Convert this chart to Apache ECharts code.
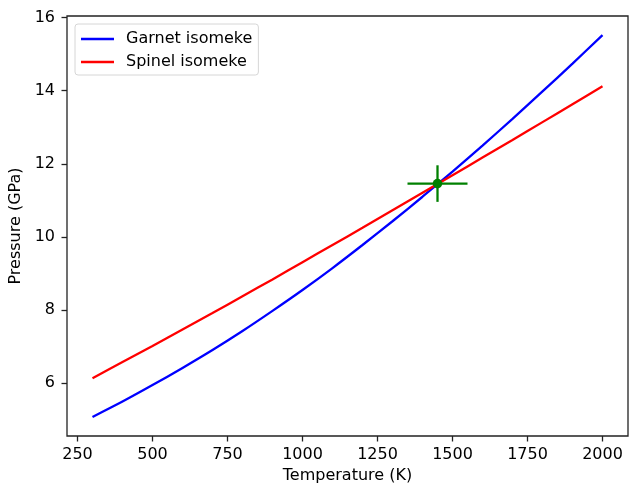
<!DOCTYPE html>
<html>
<head>
<meta charset="utf-8">
<script src="https://cdn.jsdelivr.net/npm/echarts@6/dist/echarts.min.js"></script>
<style>
    html, body { margin: 0; padding: 0; background: #fff; }
    #chartsdiv { width: 634px; height: 484px; }
</style>
</head>
<body>
<div id="chartsdiv"></div>
<script>
// temperature grid (K)
var temps = [300, 400, 500, 600, 700, 800, 900, 1000, 1100, 1200, 1300, 1400, 1500, 1600, 1700, 1800, 1900, 2000];
// pressures (GPa)
var garnet = [5.08, 5.50, 5.95, 6.42, 6.91, 7.43, 7.98, 8.55, 9.15, 9.78, 10.43, 11.10, 11.79, 12.50, 13.23, 13.98, 14.74, 15.52];
var spinel = [6.14, 6.58, 7.02, 7.47, 7.92, 8.38, 8.84, 9.31, 9.78, 10.25, 10.73, 11.21, 11.69, 12.17, 12.65, 13.14, 13.63, 14.12];
// crossing point with error bars
var crossT = [1450];
var crossP = [11.46];
var errT = [100];
var errP = [0.5];
// tick labels
var xTicks = [250, 500, 750, 1000, 1250, 1500, 1750, 2000];
var yTicks = [6, 8, 10, 12, 14, 16];

var font = 'DejaVu Sans';
var fs = 16;

function pairs(xs, ys) {
    var out = [];
    for (var i = 0; i < xs.length; i++) out.push([xs[i], ys[i]]);
    return out;
}

var errData = [];
for (var i = 0; i < crossT.length; i++) {
    errData.push([crossT[i], crossP[i], errT[i], errP[i]]);
}

var myChart = echarts.init(document.getElementById('chartsdiv'));
var option = {
    animation: false,
    textStyle: { fontFamily: font },
    grid: {
        left: 67, right: 6, top: 16, bottom: 48,
        outerBoundsMode: 'none',
        show: true, borderColor: '#222', borderWidth: 1.3, backgroundColor: '#fff'
    },
    legend: {
        orient: 'vertical',
        left: 75, top: 24,
        padding: [7, 6, 5, 6],
        itemGap: 7,
        itemWidth: 33, itemHeight: 2.4,
        icon: 'rect',
        backgroundColor: 'rgba(255,255,255,0.8)',
        borderColor: '#d6d6d6', borderWidth: 1, borderRadius: 3,
        textStyle: { fontFamily: font, fontSize: fs, color: '#000', lineHeight: 16, padding: [0, 0, 0, 7] },
        data: ['Garnet isomeke', 'Spinel isomeke']
    },
    xAxis: {
        type: 'value',
        min: 215, max: 2085,
        name: 'Temperature (K)',
        nameLocation: 'middle',
        nameGap: 32,
        nameTextStyle: { fontFamily: font, fontSize: fs, color: '#000' },
        axisLine: { show: false },
        axisTick: { show: true, length: 5.5, customValues: xTicks, lineStyle: { color: '#222', width: 1.3 } },
        axisLabel: {
            customValues: xTicks, margin: 11, fontFamily: font, fontSize: fs, color: '#000',
            formatter: function (v) { return String(v); }
        },
        splitLine: { show: false }
    },
    yAxis: {
        type: 'value',
        min: 4.558, max: 16.042,
        name: 'Pressure (GPa)',
        nameLocation: 'middle',
        nameGap: 25,
        nameTextStyle: { fontFamily: font, fontSize: fs, color: '#000' },
        axisLine: { show: false },
        axisTick: { show: true, length: 5.5, customValues: yTicks, lineStyle: { color: '#222', width: 1.3 } },
        axisLabel: {
            customValues: yTicks, margin: 12, fontFamily: font, fontSize: fs, color: '#000',
            formatter: function (v) { return String(v); }
        },
        splitLine: { show: false }
    },
    series: [
        {
            name: 'Garnet isomeke',
            type: 'line',
            data: pairs(temps, garnet),
            smooth: 0.3,
            symbol: 'none',
            color: '#0000ff',
            lineStyle: { color: '#0000ff', width: 2.3 }
        },
        {
            name: 'Spinel isomeke',
            type: 'line',
            data: pairs(temps, spinel),
            smooth: 0.3,
            symbol: 'none',
            color: '#ff0000',
            lineStyle: { color: '#ff0000', width: 2.3 }
        },
        {
            name: 'crossing',
            type: 'custom',
            data: errData,
            z: 5,
            renderItem: function (params, api) {
                var x = api.value(0), y = api.value(1), dx = api.value(2), dy = api.value(3);
                var c = api.coord([x, y]);
                var l = api.coord([x - dx, y]);
                var r = api.coord([x + dx, y]);
                var t = api.coord([x, y + dy]);
                var b = api.coord([x, y - dy]);
                var st = { stroke: '#008000', lineWidth: 2.3 };
                return {
                    type: 'group',
                    children: [
                        { type: 'line', shape: { x1: l[0], y1: l[1], x2: r[0], y2: r[1] }, style: st },
                        { type: 'line', shape: { x1: t[0], y1: t[1], x2: b[0], y2: b[1] }, style: st },
                        { type: 'circle', shape: { cx: c[0], cy: c[1], r: 4.8 }, style: { fill: '#008000' } }
                    ]
                };
            }
        }
    ]
};
myChart.setOption(option);
</script>
</body>
</html>
